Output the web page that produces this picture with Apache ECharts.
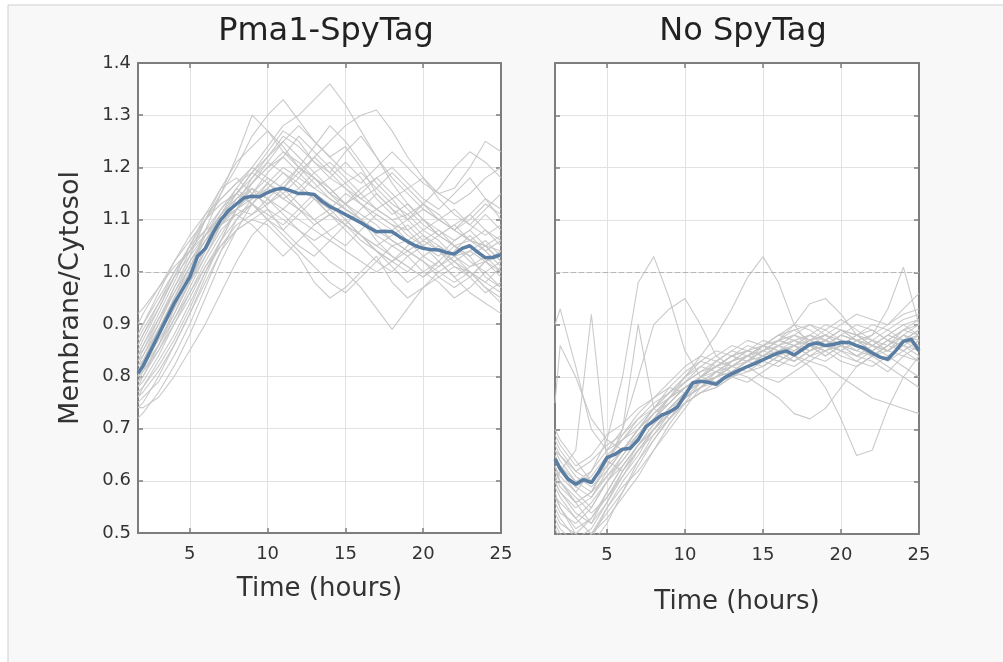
<!DOCTYPE html>
<html>
<head>
<meta charset="utf-8">
<style>
  html, body { margin: 0; padding: 0; background: #ffffff; }
  #chart { width: 1003px; height: 662px; }
</style>
<script src="https://cdn.jsdelivr.net/npm/echarts@6/dist/echarts.min.js"></script>
</head>
<body>
<div id="chart"></div>
<script>
// Sampling times (hours) for the single-cell traces
const cellTimes = [1.67, 2, 3, 4, 5, 6, 7, 8, 9, 10, 11, 12, 13, 14, 15, 16, 17, 18, 19, 20, 21, 22, 23, 24, 25];

// Sampling times (hours) for the population means
const meanTimes = [1.67, 2, 2.5, 3, 3.5, 4, 4.5, 5, 5.5, 6, 6.5, 7, 7.5, 8, 8.5, 9, 9.5, 10, 10.5, 11, 11.5, 12,
  12.5, 13, 13.5, 14, 14.5, 15, 15.5, 16, 16.5, 17, 17.5, 18, 18.5, 19, 19.5, 20, 20.5, 21, 21.5, 22, 22.5,
  23, 23.5, 24, 24.5, 25];

// Membrane/Cytosol ratio, mean over cells
const pmaMean = [0.806, 0.82, 0.85, 0.88, 0.91, 0.94, 0.965, 0.99, 1.03, 1.045, 1.075, 1.10, 1.118, 1.13, 1.142,
  1.145, 1.144, 1.152, 1.158, 1.16, 1.155, 1.15, 1.15, 1.148, 1.135, 1.125, 1.118, 1.11, 1.102, 1.094, 1.085,
  1.077, 1.078, 1.077, 1.067, 1.058, 1.05, 1.045, 1.043, 1.042, 1.037, 1.034, 1.045, 1.05, 1.038, 1.027, 1.028, 1.033];
const noTagMean = [0.643, 0.625, 0.605, 0.595, 0.604, 0.598, 0.62, 0.646, 0.652, 0.662, 0.664, 0.68, 0.705, 0.716,
  0.727, 0.733, 0.742, 0.765, 0.789, 0.792, 0.79, 0.786, 0.798, 0.806, 0.813, 0.82, 0.826, 0.833, 0.84, 0.846,
  0.85, 0.842, 0.852, 0.862, 0.865, 0.86, 0.862, 0.866, 0.866, 0.86, 0.855, 0.846, 0.838, 0.834, 0.85, 0.868,
  0.872, 0.85];

// Individual cells, Pma1-SpyTag
const pmaCells = [
  [0.80,0.82,0.88,0.95,1.01,1.07,1.12,1.16,1.20,1.24,1.28,1.30,1.33,1.36,1.32,1.27,1.22,1.18,1.15,1.12,1.10,1.08,1.06,1.05,1.04],
  [0.84,0.86,0.92,0.98,1.04,1.10,1.15,1.20,1.26,1.30,1.33,1.29,1.25,1.22,1.24,1.20,1.15,1.12,1.10,1.13,1.16,1.20,1.23,1.21,1.18],
  [0.78,0.80,0.86,0.93,1.00,1.08,1.15,1.22,1.30,1.27,1.24,1.20,1.18,1.15,1.12,1.10,1.08,1.06,1.04,1.02,1.00,0.98,1.00,0.97,0.95],
  [0.86,0.88,0.94,1.00,1.05,1.08,1.10,1.12,1.11,1.13,1.15,1.18,1.22,1.25,1.28,1.30,1.31,1.27,1.22,1.18,1.15,1.16,1.20,1.25,1.23],
  [0.74,0.75,0.80,0.86,0.92,0.98,1.04,1.08,1.10,1.09,1.06,1.03,0.98,0.95,0.97,1.00,1.03,0.98,0.95,0.97,1.00,1.02,0.99,0.96,0.98],
  [0.82,0.84,0.90,0.97,1.03,1.10,1.16,1.18,1.15,1.13,1.16,1.20,1.17,1.14,1.12,1.10,1.12,1.14,1.10,1.07,1.05,1.03,1.04,1.02,1.03],
  [0.88,0.90,0.96,1.02,1.07,1.11,1.14,1.17,1.19,1.22,1.25,1.22,1.19,1.16,1.13,1.15,1.18,1.20,1.17,1.14,1.12,1.15,1.18,1.14,1.10],
  [0.76,0.78,0.82,0.87,0.93,1.00,1.06,1.12,1.16,1.14,1.11,1.08,1.05,1.02,1.00,0.97,0.93,0.89,0.93,0.97,0.99,1.01,1.00,0.98,0.96],
  [0.80,0.83,0.89,0.94,0.99,1.04,1.09,1.13,1.18,1.22,1.26,1.24,1.21,1.19,1.23,1.26,1.22,1.17,1.13,1.10,1.08,1.06,1.08,1.11,1.08],
  [0.84,0.85,0.90,0.96,1.02,1.06,1.09,1.11,1.09,1.06,1.03,1.06,1.09,1.11,1.08,1.05,1.02,1.00,1.03,1.05,1.02,0.99,1.01,1.03,1.00],
  [0.72,0.73,0.77,0.82,0.88,0.95,1.02,1.08,1.13,1.17,1.20,1.18,1.16,1.14,1.12,1.10,1.07,1.05,1.06,1.08,1.06,1.03,1.01,1.02,1.04],
  [0.90,0.92,0.97,1.02,1.06,1.10,1.14,1.17,1.20,1.18,1.16,1.19,1.22,1.19,1.16,1.13,1.11,1.09,1.08,1.10,1.07,1.05,1.06,1.08,1.06],
  [0.78,0.79,0.84,0.90,0.96,1.02,1.07,1.12,1.15,1.18,1.16,1.13,1.10,1.07,1.05,1.08,1.11,1.09,1.06,1.03,1.01,1.03,1.00,0.98,1.01],
  [0.82,0.83,0.88,0.93,0.98,1.03,1.08,1.11,1.13,1.10,1.07,1.04,1.01,0.98,0.96,0.99,1.02,1.05,1.03,1.00,0.98,0.95,0.97,1.00,0.97],
  [0.86,0.88,0.93,0.99,1.05,1.11,1.16,1.21,1.24,1.27,1.23,1.20,1.24,1.28,1.25,1.21,1.17,1.14,1.16,1.18,1.14,1.11,1.09,1.12,1.15],
  [0.74,0.74,0.76,0.80,0.85,0.90,0.96,1.02,1.07,1.10,1.12,1.10,1.08,1.06,1.04,1.02,1.00,1.02,1.04,1.02,0.99,0.97,0.99,1.02,0.99],
  [0.80,0.82,0.87,0.92,0.98,1.04,1.10,1.15,1.19,1.17,1.14,1.16,1.19,1.21,1.18,1.15,1.12,1.10,1.07,1.05,1.07,1.09,1.06,1.04,1.06],
  [0.92,0.93,0.97,1.01,1.04,1.07,1.10,1.12,1.14,1.16,1.14,1.12,1.10,1.12,1.15,1.13,1.10,1.08,1.10,1.12,1.10,1.08,1.10,1.13,1.11],
  [0.77,0.78,0.83,0.88,0.94,1.00,1.05,1.09,1.11,1.14,1.17,1.20,1.18,1.15,1.13,1.16,1.18,1.15,1.12,1.09,1.07,1.09,1.11,1.08,1.05],
  [0.83,0.85,0.91,0.97,1.02,1.07,1.11,1.14,1.16,1.12,1.08,1.05,1.03,1.06,1.09,1.07,1.04,1.02,1.00,1.03,1.05,1.02,1.00,0.97,0.94],
  [0.76,0.77,0.81,0.86,0.92,0.99,1.06,1.12,1.17,1.21,1.25,1.28,1.25,1.22,1.19,1.17,1.20,1.23,1.20,1.17,1.15,1.13,1.15,1.18,1.20],
  [0.88,0.90,0.95,1.00,1.04,1.08,1.12,1.15,1.18,1.21,1.19,1.16,1.14,1.11,1.09,1.07,1.05,1.07,1.09,1.06,1.04,1.02,1.04,1.06,1.03],
  [0.80,0.81,0.85,0.90,0.95,1.01,1.06,1.10,1.13,1.11,1.09,1.12,1.15,1.13,1.10,1.07,1.05,1.03,1.01,0.99,1.01,1.04,1.07,1.04,1.01],
  [0.84,0.86,0.91,0.96,1.01,1.06,1.11,1.15,1.19,1.23,1.27,1.25,1.21,1.18,1.16,1.14,1.12,1.10,1.11,1.13,1.11,1.08,1.06,1.05,1.07],
  [0.79,0.80,0.85,0.91,0.97,1.03,1.09,1.14,1.17,1.20,1.22,1.19,1.16,1.18,1.21,1.18,1.14,1.11,1.13,1.10,1.07,1.05,1.03,1.05,1.02],
  [0.85,0.87,0.93,0.99,1.05,1.10,1.13,1.15,1.13,1.16,1.19,1.17,1.14,1.11,1.09,1.12,1.15,1.12,1.08,1.05,1.03,1.06,1.08,1.05,1.02],
  [0.81,0.83,0.89,0.95,1.01,1.06,1.10,1.13,1.16,1.14,1.12,1.15,1.18,1.16,1.13,1.11,1.09,1.06,1.04,1.06,1.08,1.05,1.02,1.00,1.02],
  [0.75,0.76,0.79,0.84,0.90,0.97,1.04,1.10,1.14,1.17,1.15,1.12,1.09,1.11,1.13,1.10,1.06,1.03,1.01,0.99,1.02,1.05,1.03,0.99,0.97],
  [0.87,0.89,0.94,0.99,1.03,1.07,1.11,1.14,1.17,1.20,1.23,1.21,1.18,1.15,1.17,1.19,1.16,1.13,1.11,1.08,1.10,1.12,1.09,1.07,1.09],
  [0.79,0.81,0.86,0.92,0.98,1.05,1.11,1.16,1.13,1.10,1.08,1.11,1.14,1.12,1.09,1.06,1.04,1.02,1.05,1.07,1.04,1.01,0.99,1.02,1.00],
  [0.83,0.84,0.89,0.95,1.00,1.05,1.09,1.12,1.15,1.19,1.22,1.26,1.23,1.20,1.17,1.14,1.16,1.19,1.16,1.13,1.10,1.08,1.11,1.14,1.12],
  [0.81,0.82,0.86,0.91,0.96,1.01,1.05,1.08,1.10,1.12,1.10,1.08,1.06,1.08,1.10,1.07,1.04,1.01,0.98,1.00,1.02,0.99,0.96,0.94,0.92]
];

// Individual cells, no SpyTag
const noTagCells = [
  [0.62,0.60,0.56,0.52,0.58,0.63,0.67,0.70,0.74,0.77,0.80,0.81,0.80,0.82,0.84,0.85,0.86,0.87,0.86,0.88,0.87,0.86,0.85,0.87,0.88],
  [0.70,0.68,0.64,0.60,0.63,0.66,0.70,0.73,0.75,0.78,0.79,0.81,0.83,0.84,0.83,0.85,0.87,0.86,0.85,0.86,0.88,0.89,0.87,0.86,0.88],
  [0.58,0.55,0.50,0.48,0.52,0.58,0.64,0.69,0.72,0.75,0.77,0.79,0.80,0.82,0.83,0.82,0.84,0.86,0.88,0.87,0.85,0.84,0.86,0.89,0.90],
  [0.66,0.64,0.60,0.62,0.68,0.80,0.98,1.03,0.95,0.85,0.80,0.82,0.84,0.83,0.85,0.86,0.84,0.83,0.85,0.87,0.86,0.84,0.86,0.88,0.87],
  [0.60,0.62,0.66,0.92,0.64,0.62,0.66,0.70,0.73,0.76,0.78,0.80,0.82,0.81,0.83,0.85,0.84,0.86,0.87,0.85,0.84,0.86,0.88,0.87,0.85],
  [0.90,0.93,0.82,0.70,0.66,0.68,0.72,0.74,0.76,0.78,0.80,0.79,0.81,0.83,0.85,0.84,0.83,0.85,0.87,0.86,0.88,0.90,0.89,0.87,0.89],
  [0.64,0.62,0.58,0.55,0.60,0.64,0.68,0.72,0.76,0.80,0.84,0.88,0.93,0.99,1.03,0.98,0.90,0.86,0.84,0.86,0.85,0.87,0.86,0.88,0.90],
  [0.56,0.54,0.52,0.55,0.60,0.65,0.69,0.72,0.75,0.78,0.80,0.82,0.84,0.85,0.86,0.85,0.84,0.82,0.78,0.72,0.65,0.66,0.74,0.80,0.84],
  [0.60,0.58,0.55,0.57,0.62,0.66,0.69,0.73,0.76,0.79,0.81,0.82,0.84,0.85,0.84,0.86,0.87,0.88,0.86,0.85,0.87,0.88,0.93,1.01,0.90],
  [0.65,0.63,0.60,0.58,0.63,0.70,0.80,0.90,0.93,0.95,0.90,0.84,0.82,0.84,0.86,0.88,0.87,0.85,0.86,0.88,0.90,0.89,0.87,0.86,0.85],
  [0.52,0.50,0.47,0.49,0.55,0.60,0.64,0.68,0.72,0.76,0.79,0.80,0.82,0.83,0.82,0.84,0.86,0.85,0.87,0.89,0.88,0.86,0.85,0.87,0.89],
  [0.68,0.66,0.62,0.64,0.67,0.69,0.72,0.75,0.77,0.79,0.81,0.83,0.82,0.84,0.86,0.88,0.89,0.87,0.86,0.85,0.83,0.82,0.84,0.86,0.84],
  [0.62,0.60,0.57,0.54,0.57,0.61,0.65,0.70,0.74,0.77,0.79,0.80,0.81,0.82,0.80,0.79,0.81,0.83,0.82,0.80,0.78,0.76,0.75,0.74,0.73],
  [0.55,0.53,0.49,0.51,0.56,0.62,0.67,0.71,0.74,0.76,0.78,0.80,0.83,0.85,0.87,0.86,0.88,0.90,0.89,0.87,0.86,0.88,0.90,0.92,0.93],
  [0.75,0.86,0.80,0.72,0.68,0.66,0.70,0.74,0.77,0.80,0.82,0.81,0.83,0.85,0.84,0.83,0.85,0.87,0.88,0.86,0.85,0.87,0.89,0.91,0.92],
  [0.59,0.57,0.53,0.56,0.60,0.63,0.67,0.70,0.73,0.75,0.77,0.78,0.80,0.81,0.82,0.84,0.83,0.85,0.86,0.84,0.83,0.85,0.87,0.85,0.83],
  [0.63,0.61,0.58,0.62,0.66,0.70,0.90,0.74,0.72,0.76,0.78,0.80,0.82,0.84,0.85,0.87,0.86,0.88,0.90,0.89,0.87,0.86,0.88,0.90,0.91],
  [0.66,0.65,0.62,0.60,0.64,0.68,0.71,0.74,0.77,0.80,0.83,0.85,0.84,0.83,0.86,0.88,0.90,0.89,0.87,0.86,0.84,0.85,0.87,0.89,0.88],
  [0.53,0.51,0.48,0.50,0.55,0.59,0.62,0.66,0.70,0.74,0.78,0.81,0.82,0.84,0.83,0.85,0.86,0.84,0.83,0.85,0.87,0.86,0.84,0.82,0.80],
  [0.61,0.59,0.56,0.58,0.61,0.64,0.68,0.72,0.75,0.78,0.80,0.79,0.81,0.83,0.85,0.87,0.89,0.90,0.88,0.90,0.92,0.91,0.90,0.93,0.96],
  [0.64,0.62,0.59,0.61,0.65,0.68,0.70,0.73,0.76,0.78,0.80,0.82,0.83,0.84,0.86,0.87,0.90,0.94,0.95,0.92,0.88,0.86,0.85,0.84,0.83],
  [0.57,0.55,0.51,0.53,0.58,0.63,0.67,0.71,0.74,0.77,0.79,0.80,0.81,0.80,0.78,0.76,0.73,0.72,0.74,0.78,0.82,0.84,0.86,0.85,0.87],
  [0.60,0.58,0.54,0.52,0.56,0.61,0.66,0.70,0.73,0.76,0.78,0.79,0.81,0.83,0.84,0.83,0.85,0.86,0.85,0.87,0.86,0.84,0.85,0.87,0.86],
  [0.67,0.65,0.61,0.59,0.62,0.66,0.70,0.74,0.78,0.81,0.83,0.82,0.84,0.86,0.85,0.87,0.88,0.86,0.84,0.86,0.88,0.87,0.85,0.87,0.89],
  [0.54,0.52,0.50,0.53,0.57,0.62,0.66,0.69,0.73,0.77,0.80,0.82,0.81,0.83,0.85,0.87,0.86,0.84,0.86,0.88,0.87,0.85,0.83,0.85,0.87],
  [0.63,0.60,0.56,0.58,0.64,0.69,0.73,0.76,0.78,0.77,0.80,0.83,0.85,0.84,0.86,0.85,0.83,0.85,0.87,0.89,0.88,0.86,0.88,0.90,0.88],
  [0.57,0.56,0.53,0.50,0.53,0.57,0.61,0.66,0.71,0.75,0.79,0.81,0.80,0.82,0.84,0.86,0.85,0.87,0.88,0.86,0.84,0.83,0.81,0.84,0.86],
  [0.69,0.67,0.63,0.65,0.69,0.71,0.74,0.76,0.79,0.82,0.84,0.83,0.85,0.87,0.86,0.84,0.86,0.88,0.87,0.89,0.87,0.85,0.87,0.89,0.91],
  [0.51,0.49,0.47,0.50,0.54,0.58,0.63,0.68,0.72,0.75,0.77,0.78,0.80,0.79,0.81,0.83,0.82,0.84,0.85,0.83,0.82,0.84,0.82,0.80,0.78],
  [0.65,0.63,0.59,0.57,0.61,0.65,0.69,0.72,0.76,0.79,0.82,0.84,0.86,0.85,0.84,0.86,0.88,0.87,0.89,0.91,0.89,0.87,0.85,0.88,0.86]
];

const panelTitles = ['Pma1-SpyTag', 'No SpyTag'];
const xAxisTitle = 'Time (hours)';
const yAxisTitle = 'Membrane/Cytosol';

const FONT = 'DejaVu Sans';
const FRAME = '#7d7d7d';
const CELL_COLOR = '#c4c4c4';
const MEAN_COLOR = '#5a7ea3';
const X_MIN = 1.67, X_MAX = 25, Y_MIN = 0.5, Y_MAX = 1.4;

const grids = [
  { left: 138, top: 63, width: 363, height: 470, show: true, backgroundColor: '#ffffff', borderWidth: 0 },
  { left: 555, top: 63, width: 364, height: 471, show: true, backgroundColor: '#ffffff', borderWidth: 0 }
];

function bottomX(gi, nameGap) {
  return {
    type: 'value', gridIndex: gi, position: 'bottom', min: X_MIN, max: X_MAX, splitNumber: 5,
    name: xAxisTitle, nameLocation: 'middle', nameGap: nameGap,
    nameTextStyle: { fontFamily: FONT, fontSize: 26, color: '#333' },
    axisLine: { show: true, onZero: false, lineStyle: { color: FRAME, width: 2 } },
    axisTick: { show: true, inside: true, length: 5, lineStyle: { color: FRAME, width: 1.5 } },
    axisLabel: { show: true, showMinLabel: false, margin: 12, fontFamily: FONT, fontSize: 18, color: '#333',
      formatter: v => (Math.abs(v - Math.round(v)) < 1e-6 ? String(Math.round(v)) : '') },
    splitLine: { show: true, lineStyle: { color: '#e2e2e2', width: 1 } }
  };
}
function topX(gi) {
  return {
    type: 'value', gridIndex: gi, position: 'top', min: X_MIN, max: X_MAX, splitNumber: 5,
    axisLine: { show: true, onZero: false, lineStyle: { color: FRAME, width: 2 } },
    axisTick: { show: true, inside: true, length: 5, lineStyle: { color: FRAME, width: 1.5 } },
    axisLabel: { show: false }, splitLine: { show: false }
  };
}
function leftY(gi, withLabels) {
  return {
    type: 'value', gridIndex: gi, position: 'left', min: Y_MIN, max: Y_MAX, interval: 0.1,
    name: withLabels ? yAxisTitle : '', nameLocation: 'middle', nameGap: 54,
    nameTextStyle: { fontFamily: FONT, fontSize: 27, color: '#333' },
    axisLine: { show: true, onZero: false, lineStyle: { color: FRAME, width: 2 } },
    axisTick: { show: true, inside: true, length: 5, lineStyle: { color: FRAME, width: 1.5 } },
    axisLabel: { show: withLabels, margin: 7, fontFamily: FONT, fontSize: 18, color: '#333',
      formatter: v => v.toFixed(1) },
    splitLine: { show: true, lineStyle: { color: '#e2e2e2', width: 1 } }
  };
}
function rightY(gi) {
  return {
    type: 'value', gridIndex: gi, position: 'right', min: Y_MIN, max: Y_MAX, interval: 0.1,
    axisLine: { show: true, onZero: false, lineStyle: { color: FRAME, width: 2 } },
    axisTick: { show: true, inside: true, length: 5, lineStyle: { color: FRAME, width: 1.5 } },
    axisLabel: { show: false }, splitLine: { show: false }
  };
}

const xAxes = [bottomX(0, 43), topX(0), bottomX(1, 55), topX(1)];
const yAxes = [leftY(0, true), rightY(0), leftY(1, false), rightY(1)];

function pairs(times, vals) { return times.map((t, i) => [t, vals[i]]); }

const series = [];
[pmaCells, noTagCells].forEach((cells, gi) => {
  cells.forEach(vals => {
    series.push({
      type: 'line', xAxisIndex: gi * 2, yAxisIndex: gi * 2, data: pairs(cellTimes, vals),
      showSymbol: false, silent: true, z: 2,
      lineStyle: { color: CELL_COLOR, width: 1.1, opacity: 0.9 }
    });
  });
});
// reference level at ratio 1.0
[0, 1].forEach(gi => {
  series.push({
    type: 'line', xAxisIndex: gi * 2, yAxisIndex: gi * 2, data: [], silent: true, z: 1,
    markLine: { silent: true, symbol: 'none', label: { show: false },
      lineStyle: { color: '#b5b5b5', type: [5, 3], width: 1 }, data: [{ yAxis: 1.0 }] }
  });
});
[pmaMean, noTagMean].forEach((vals, gi) => {
  series.push({
    type: 'line', xAxisIndex: gi * 2, yAxisIndex: gi * 2, data: pairs(meanTimes, vals),
    showSymbol: false, silent: true, z: 5,
    lineStyle: { color: MEAN_COLOR, width: 3.5 }
  });
});

const chart = echarts.init(document.getElementById('chart'), null, { renderer: 'canvas' });
chart.setOption({
  animation: false,
  backgroundColor: '#ffffff',
  graphic: [
    { type: 'rect', z: -10, silent: true, shape: { x: 8, y: 5, width: 1003, height: 662 },
      style: { fill: '#f8f8f8', stroke: '#cfcfcf', lineWidth: 1 } },
    { type: 'text', silent: true, x: 326, y: 32,
      style: { text: panelTitles[0], font: '32px "DejaVu Sans"', fill: '#222', textAlign: 'center', textVerticalAlign: 'middle' } },
    { type: 'text', silent: true, x: 743, y: 32,
      style: { text: panelTitles[1], font: '32px "DejaVu Sans"', fill: '#222', textAlign: 'center', textVerticalAlign: 'middle' } }
  ],
  grid: grids,
  xAxis: xAxes,
  yAxis: yAxes,
  series: series
});
</script>
</body>
</html>
